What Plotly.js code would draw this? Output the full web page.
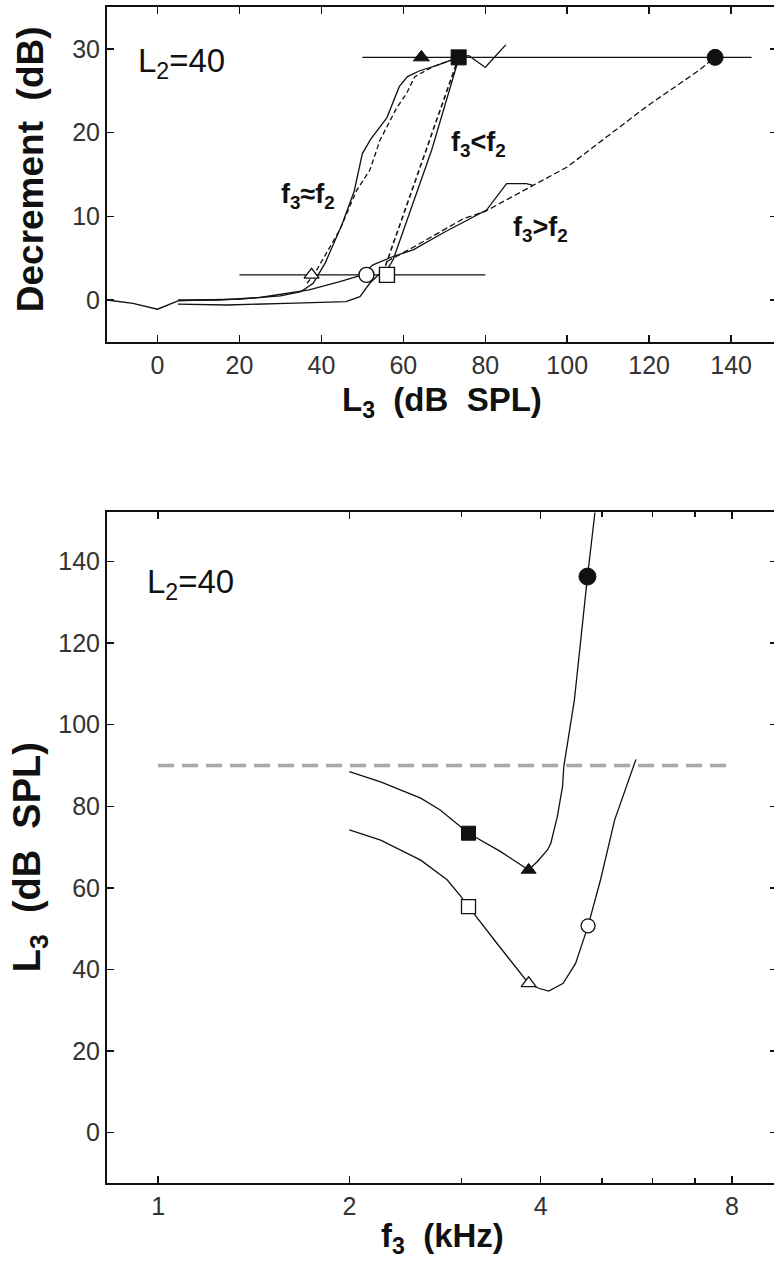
<!DOCTYPE html>
<html>
<head>
<meta charset="utf-8">
<script src="https://cdn.plot.ly/plotly-3.0.1.min.js"></script>
<style>
html,body{margin:0;padding:0;background:#fff;overflow:hidden;}
#chart{width:780px;height:1271px;}
</style>
</head>
<body>
<div id="chart"></div>
<script>
// ---------- Top panel: decrement vs L3 ----------
// f3 ≈ f2 (measured, solid)
var nearX = [-12.3, -6, 0, 5, 10, 20, 30, 35, 38, 41, 45, 48, 50, 52, 56, 59, 61, 64, 68, 72, 73.5];
var nearY = [0, -0.4, -1.1, -0.1, 0, 0.1, 0.5, 1.0, 2.0, 4.5, 9, 13, 17.5, 19.2, 21.8, 25.5, 26.7, 27.4, 28, 28.7, 29];
// f3 ≈ f2 (fit, dashed)
var nearFitX = [36.5, 38.4, 44.5, 48.6, 51.8, 54.3, 58.3, 60.8, 62.8, 67.3, 73.5];
var nearFitY = [2.0, 3.2, 8.4, 13.1, 15.5, 19.1, 22.9, 24.7, 26.7, 27.9, 29];
// f3 < f2 (measured, solid)
var belowX = [5, 16.9, 31.5, 38, 46, 49.4, 51.8, 54.3, 56, 57.5, 66.9, 73, 73.5, 76, 80, 82, 85];
var belowY = [-0.5, -0.6, -0.4, -0.3, -0.2, 0.4, 2.0, 3.2, 3.6, 4.8, 17.9, 28, 29, 29.2, 27.8, 28.9, 30.5];
// f3 < f2 (fit, dashed)
var belowFitX = [55, 73.5];
var belowFitY = [3.2, 29];
// f3 > f2 (measured, solid)
var aboveX = [5, 15, 25, 37, 44.5, 49.4, 52.6, 57.5, 62.4, 70, 80.3, 85.2, 90, 91.7];
var aboveY = [0, 0, 0.3, 1.2, 2.2, 2.9, 4.2, 5.2, 6.0, 8.1, 10.75, 13.9, 13.9, 13.7];
// f3 > f2 (fit, dashed)
var aboveFitX = [56, 62.4, 74.6, 80, 100, 119.3, 132.3, 136];
var aboveFitY = [4.6, 6.3, 9.7, 10.6, 15.9, 23.1, 27.5, 29];
// criterion lines
var critHighX = [50, 145];
var critHighY = [29, 29];
var critLowX = [20, 80];
var critLowY = [3, 3];
// threshold markers (L3 at criterion)
var openMarkX = [37.6, 51, 56];
var openMarkY = [3, 3, 3];
var filledMarkX = [64.4, 73.5, 136.1];
var filledMarkY = [29, 29, 29];

// ---------- Bottom panel: L3 vs f3 ----------
var upperF = [2.0, 2.24, 2.59, 2.78, 3.08, 3.45, 3.83, 3.95, 4.10, 4.15, 4.25, 4.33, 4.35, 4.52, 4.74, 4.87];
var upperL = [88.5, 86, 82, 79.1, 73.4, 69, 64.4, 66.4, 69.3, 70.9, 77.5, 84.8, 89.7, 106, 136.3, 152];
var lowerF = [2.0, 2.24, 2.59, 2.85, 3.0, 3.08, 3.43, 3.83, 3.97, 4.12, 4.34, 4.54, 4.75, 4.97, 5.23, 5.65];
var lowerL = [74.2, 71.7, 66.8, 62, 57.8, 55.4, 46, 36.6, 35.4, 34.7, 36.6, 41.5, 50.7, 62, 76.6, 91.5];
var filledF = [3.08, 3.83, 4.74];
var filledL = [73.4, 64.4, 136.3];
var openF = [3.08, 3.83, 4.75];
var openL = [55.4, 36.6, 50.7];
var refLineF = [1, 8];
var refLineL = [90, 90];

var xTickVals1 = [0, 20, 40, 60, 80, 100, 120, 140];
var yTickVals1 = [0, 10, 20, 30];
var xTickVals2 = [1, 2, 4, 8];
var xTickText2 = ['1', '2', '4', '8'];
var xMinorVals2 = [3, 5, 6, 7];
var yTickVals2 = [0, 20, 40, 60, 80, 100, 120, 140];

var ink = '#111';
var FONT = 'Liberation Sans, Arial, sans-serif';
function ln(x, y, xa, ya, dash, w, col) {
  return {x: x, y: y, xaxis: xa, yaxis: ya, type: 'scatter', mode: 'lines',
    line: {color: col || ink, width: w || 1.3, dash: dash || 'solid'}, hoverinfo: 'skip'};
}
function mk(x, y, xa, ya, syms, sizes, fill, lw) {
  return {x: x, y: y, xaxis: xa, yaxis: ya, type: 'scatter', mode: 'markers',
    marker: {symbol: syms, size: sizes, color: fill, opacity: 1, line: {color: ink, width: lw}}, hoverinfo: 'skip'};
}

var traces = [
  ln(critHighX, critHighY, 'x', 'y'),
  ln(critLowX, critLowY, 'x', 'y'),
  ln(nearX, nearY, 'x', 'y'),
  ln(nearFitX, nearFitY, 'x', 'y', '5px,3px'),
  ln(belowX, belowY, 'x', 'y'),
  ln(belowFitX, belowFitY, 'x', 'y', '5px,3px', 1.6),
  ln(aboveX, aboveY, 'x', 'y'),
  ln(aboveFitX, aboveFitY, 'x', 'y', '6px,3px'),
  mk(openMarkX, openMarkY, 'x', 'y', ['triangle-up', 'circle', 'square'], [13, 15, 15], '#fff', 1.4),
  mk(filledMarkX, filledMarkY, 'x', 'y', ['triangle-up', 'square', 'circle'], [14, 15, 16], ink, 1),

  ln(refLineF, refLineL, 'x2', 'y2', '16px,8px', 3.5, '#a8a8a8'),
  ln(upperF, upperL, 'x2', 'y2'),
  ln(lowerF, lowerL, 'x2', 'y2'),
  mk(filledF, filledL, 'x2', 'y2', ['square', 'triangle-up', 'circle'], [14, 13, 17], ink, 1),
  mk(openF, openL, 'x2', 'y2', ['square', 'triangle-up', 'circle'], [14, 13, 14], '#fff', 1.3)
];

var tickFont = {family: FONT, size: 25, color: '#333'};
var axBase = {showline: true, linecolor: ink, linewidth: 2, mirror: 'ticks', ticks: 'inside',
  ticklen: 7, tickwidth: 1.5, tickcolor: ink, showgrid: false, zeroline: false, tickfont: tickFont,
  tickmode: 'array', fixedrange: true};

var layout = {
  width: 780, height: 1271,
  margin: {l: 107, r: 3, t: 7, b: 88},
  paper_bgcolor: '#fff', plot_bgcolor: '#fff',
  showlegend: false,
  xaxis: Object.assign({}, axBase, {domain: [0, 1], anchor: 'y', range: [-12.33, 151.2], tickvals: xTickVals1}),
  yaxis: Object.assign({}, axBase, {domain: [0.71514, 1], anchor: 'x', range: [-5.02, 35.02], tickvals: yTickVals1}),
  xaxis2: Object.assign({}, axBase, {domain: [0, 1], anchor: 'y2', type: 'log',
    range: [Math.log10(0.831), Math.log10(9.42)], tickvals: xTickVals2, ticktext: xTickText2,
    minor: {tickmode: 'array', tickvals: xMinorVals2, ticks: 'inside', ticklen: 5, tickwidth: 1.5, tickcolor: ink}}),
  yaxis2: Object.assign({}, axBase, {domain: [0, 0.57083], anchor: 'x2', range: [-12.33, 152.2], tickvals: yTickVals2}),
  annotations: [
    {text: 'L<sub>2</sub>=40', xref: 'paper', yref: 'paper', x: 0.044, y: 0.952, xanchor: 'left', yanchor: 'middle', showarrow: false,
     font: {family: FONT, size: 33, color: ink}},
    {text: 'L<sub>2</sub>=40', xref: 'paper', yref: 'paper', x: 0.056, y: 0.509, xanchor: 'left', yanchor: 'middle', showarrow: false,
     font: {family: FONT, size: 33, color: ink}},
    {text: '<b>f<sub>3</sub>≈f<sub>2</sub></b>', xref: 'x', yref: 'y', x: 36.7, y: 12.4, xanchor: 'center', yanchor: 'middle', showarrow: false,
     font: {family: FONT, size: 27, color: ink}},
    {text: '<b>f<sub>3</sub>&lt;f<sub>2</sub></b>', xref: 'x', yref: 'y', x: 78.4, y: 18.6, xanchor: 'center', yanchor: 'middle', showarrow: false,
     font: {family: FONT, size: 27, color: ink}},
    {text: '<b>f<sub>3</sub>&gt;f<sub>2</sub></b>', xref: 'x', yref: 'y', x: 93.4, y: 8.5, xanchor: 'center', yanchor: 'middle', showarrow: false,
     font: {family: FONT, size: 27, color: ink}},
    // axis titles
    {text: '<b>Decrement  (dB)</b>', xref: 'paper', yref: 'paper', x: -0.115, y: 0.862, xanchor: 'center', yanchor: 'middle', textangle: -90, showarrow: false,
     font: {family: FONT, size: 37, color: ink}},
    {text: '<b>L<sub>3</sub>  (dB  SPL)</b>', xref: 'paper', yref: 'paper', x: 0.5, y: 0.664, xanchor: 'center', yanchor: 'middle', showarrow: false,
     font: {family: FONT, size: 33, color: ink}},
    {text: '<b>L<sub>3</sub>  (dB  SPL)</b>', xref: 'paper', yref: 'paper', x: -0.115, y: 0.277, xanchor: 'center', yanchor: 'middle', textangle: -90, showarrow: false,
     font: {family: FONT, size: 38, color: ink}},
    {text: '<b>f<sub>3</sub>  (kHz)</b>', xref: 'paper', yref: 'paper', x: 0.5, y: -0.047, xanchor: 'center', yanchor: 'middle', showarrow: false,
     font: {family: FONT, size: 33, color: ink}}
  ]
};

Plotly.newPlot('chart', traces, layout, {staticPlot: true, displayModeBar: false});
</script>
</body>
</html>
